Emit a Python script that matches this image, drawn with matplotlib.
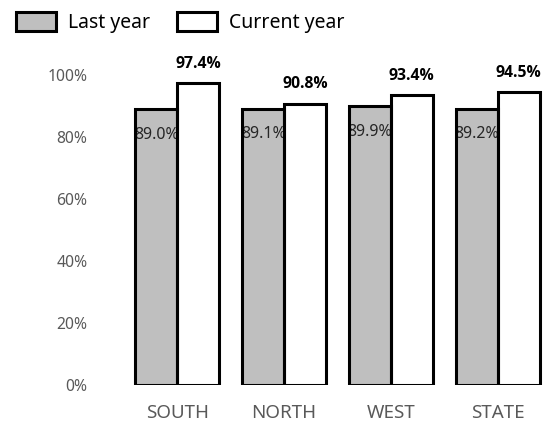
import matplotlib.pyplot as plt
import numpy as np
from matplotlib.patches import Patch

plt.rcParams['font.family'] = ['Noto Sans', 'DejaVu Sans']

regions = ['SOUTH', 'NORTH', 'WEST', 'STATE']
last_year = [89.0, 89.1, 89.9, 89.2]
current_year = [97.4, 90.8, 93.4, 94.5]
y_ticks = [0, 20, 40, 60, 80, 100]

gray = '#bfbfbf'
label_gray = '#595959'
edge_w = 2.2
bar_w = 0.39

fig = plt.figure(figsize=(5.47, 4.21), dpi=100)
ax = fig.add_axes([0.226, 0.0855, 0.774, 0.7363])

x = np.arange(len(regions))
x_last = x - bar_w / 2
x_cur = x + bar_w / 2

# fills first, then the labels, then the outlines so the edge sits over the text
ax.bar(x_last, last_year, bar_w, color=gray, linewidth=0, zorder=1)
ax.bar(x_cur, current_year, bar_w, color='white', linewidth=0, zorder=1)

for xi, v in zip(x_last, last_year):
    ax.text(xi, v - 8.2, f'{v:.1f}%', ha='center', va='center', fontsize=11.5,
            color='#262626', zorder=2)
for xi, v in zip(x_cur, current_year):
    ax.text(xi, v + 6.3, f'{v:.1f}%', ha='center', va='center', fontsize=11.3,
            family='Open Sans', fontweight='bold', color='black', zorder=2, clip_on=False)

ax.bar(x_last, last_year, bar_w, fill=False, edgecolor='black', linewidth=edge_w, zorder=3)
ax.bar(x_cur, current_year, bar_w, fill=False, edgecolor='black', linewidth=edge_w, zorder=3)

ax.set_xlim(-0.5, 3.46)
ax.set_ylim(0, 100)
ax.set_yticks(y_ticks)
ax.set_yticklabels([f'{t}%' for t in y_ticks])
ax.set_xticks(x)
ax.set_xticklabels(regions)
ax.tick_params(axis='y', length=0, pad=26, labelsize=11.3, labelcolor=label_gray)
ax.tick_params(axis='x', length=0, pad=14, labelsize=13.5, labelcolor=label_gray)
for s in ax.spines.values():
    s.set_visible(False)

handles = [Patch(facecolor=gray, edgecolor='black', linewidth=edge_w, label='Last year'),
           Patch(facecolor='white', edgecolor='black', linewidth=edge_w, label='Current year')]
fig.legend(handles=handles, loc='upper left', bbox_to_anchor=(-0.0025, 1.012), ncol=2,
           frameon=False, fontsize=14, handlelength=2.05, handleheight=1.1,
           handletextpad=0.6, columnspacing=1.4)

fig.savefig('out.png', dpi=100)
